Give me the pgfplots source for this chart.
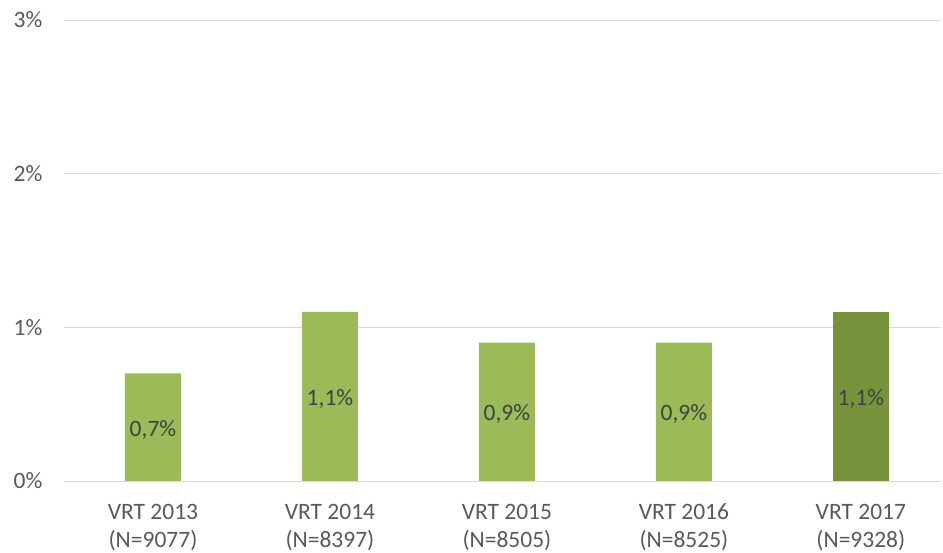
\documentclass[border=0pt]{standalone}
\usepackage{fontspec}
\setmainfont{Carlito}
\usepackage{pgfplots}
\pgfplotsset{compat=1.18}

\definecolor{barlight}{HTML}{9BBB59}
\definecolor{bardark}{HTML}{77933C}
\definecolor{gridgray}{HTML}{D9D9D9}
\definecolor{ticktext}{HTML}{595959}
\definecolor{valtext}{HTML}{404040}

\begin{document}
\begin{tikzpicture}
\useasboundingbox (-64.5pt,-72pt) rectangle (878.5pt,481pt);
\begin{axis}[
    at={(0,0)}, anchor=south west,
    scale only axis,
    width=876pt, height=461pt,
    xmin=-0.5, xmax=4.45,
    ymin=0, ymax=3,
    ybar, bar width=56pt,
    axis line style={draw=none},
    major tick length=0pt,
    ymajorgrids,
    grid style={gridgray, line width=0.9pt},
    ytick={0,1,2,3},
    yticklabel={\pgfmathprintnumber{\tick}\%},
    yticklabel style={inner sep=0pt, xshift=-22pt, text=ticktext,
        font=\fontsize{23.5}{28}\selectfont},
    xtick={0,1,2,3,4},
    xticklabels={{\vphantom{(}VRT 2013\\(N=9077)},{\vphantom{(}VRT 2014\\(N=8397)},
        {\vphantom{(}VRT 2015\\(N=8505)},{\vphantom{(}VRT 2016\\(N=8525)},
        {\vphantom{(}VRT 2017\\(N=9328)}},
    xticklabel style={align=center, anchor=north, inner sep=0pt, yshift=-21pt,
        text=ticktext, font=\fontsize{23.5}{28}\selectfont},
    /pgf/number format/assume math mode=true,
    visualization depends on={rawy \as \rawy},
    nodes near coords={\pgfmathprintnumber[fixed,precision=1,fixed zerofill,use comma]{\pgfplotspointmeta}\%},
    every node near coord/.append style={anchor=center, inner sep=0pt,
        yshift=-0.5*\rawy*153.667pt-2.5pt, text=valtext,
        font=\fontsize{23.5}{28}\selectfont},
]
\addplot[fill=barlight, draw=none, bar shift=0pt] coordinates {
    (0,0.7) (1,1.1) (2,0.9) (3,0.9)
};
\addplot[fill=bardark, draw=none, bar shift=0pt] coordinates {
    (4,1.1)
};
\end{axis}
\end{tikzpicture}
\end{document}
